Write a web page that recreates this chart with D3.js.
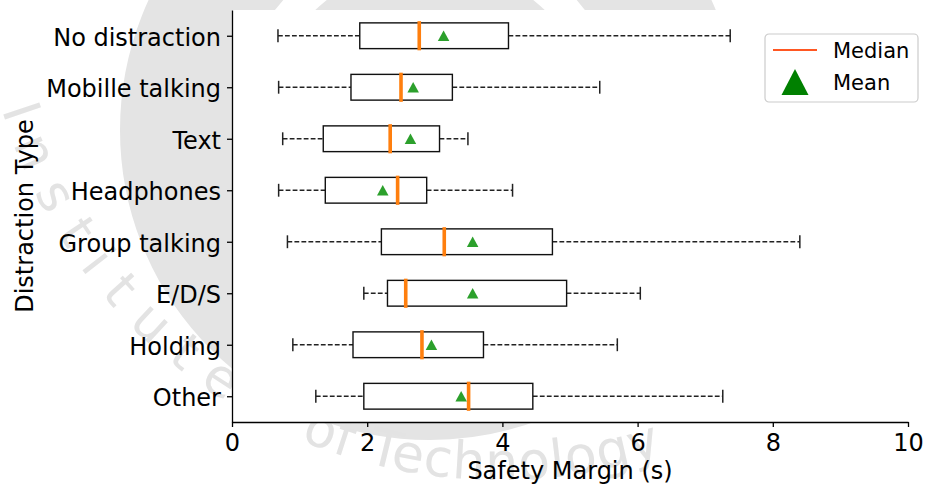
<!DOCTYPE html>
<html>
<head>
<meta charset="utf-8">
<script src="https://cdn.jsdelivr.net/npm/d3@7"></script>
<style>
  html, body { margin: 0; padding: 0; background: #ffffff; }
  svg { display: block; font-family: "DejaVu Sans", sans-serif; }
</style>
</head>
<body>
<svg id="chart" width="927" height="485"></svg>
<script>
// Distraction categories, listed top to bottom
const categories = ["No distraction", "Mobille talking", "Text", "Headphones",
                    "Group talking", "E/D/S", "Holding", "Other"];
// Five-number summaries and means of safety margin (s)
const whiskerLow  = [0.68, 0.69, 0.75, 0.69, 0.82, 1.95, 0.90, 1.24];
const q1          = [1.89, 1.76, 1.35, 1.38, 2.21, 2.30, 1.79, 1.95];
const medians     = [2.77, 2.50, 2.34, 2.45, 3.14, 2.57, 2.81, 3.50];
const q3          = [4.09, 3.26, 3.07, 2.88, 4.74, 4.95, 3.72, 4.45];
const whiskerHigh = [7.37, 5.44, 3.49, 4.15, 8.40, 6.04, 5.70, 7.26];
const means       = [3.13, 2.68, 2.64, 2.23, 3.56, 3.56, 2.95, 3.39];
const xTicks = [0, 2, 4, 6, 8, 10];

const svg = d3.select("#chart");
const plot = { left: 232, right: 908, top: 10, bottom: 422 };

// faint emblem behind the figure
const wm = svg.append("g").attr("fill", "#e4e4e4");
wm.append("circle").attr("cx", 430).attr("cy", 130).attr("r", 253)
  .attr("fill", "none").attr("stroke", "#e4e4e4").attr("stroke-width", 114);
wm.append("circle").attr("cx", 430).attr("cy", 130).attr("r", 166);
const defs = svg.append("defs");
// circular text track running from upper left, down and across the bottom
const tc = { x: 500, y: -40, r: 520 };
const pt = deg => [tc.x + tc.r * Math.cos(deg * Math.PI / 180), tc.y + tc.r * Math.sin(deg * Math.PI / 180)];
const [sx, sy] = pt(169), [ex, ey] = pt(60);
defs.append("path").attr("id", "wmTrack")
  .attr("d", `M${sx},${sy} A${tc.r},${tc.r} 0 0 0 ${ex},${ey}`);
const wmFont = { size: 52, fill: "#e3e3e3" };
wm.append("text").attr("font-size", wmFont.size).attr("fill", wmFont.fill)
  .attr("letter-spacing", 20)
  .append("textPath").attr("href", "#wmTrack").attr("startOffset", 52).text("Institute");
wm.append("text").attr("font-size", wmFont.size).attr("fill", wmFont.fill)
  .attr("letter-spacing", 1)
  .append("textPath").attr("href", "#wmTrack").attr("startOffset", 512).text("of Technology");

const x = d3.scaleLinear().domain([0, 10]).range([plot.left, plot.right]);
// boxes sit at positions 1..n from the bottom, with half a slot of padding
const n = categories.length;
const pos = d3.scaleLinear().domain([0.5, n + 0.5]).range([plot.bottom, plot.top]);
const yOf = i => pos(n - i);
const unit = Math.abs(pos(1) - pos(0));
const boxH = unit * 0.5;
const capH = unit * 0.25;

// plotting area background
svg.append("rect")
  .attr("x", plot.left).attr("y", plot.top)
  .attr("width", plot.right - plot.left).attr("height", plot.bottom - plot.top)
  .attr("fill", "#ffffff");

const rows = categories.map((c, i) => ({
  c, i, lo: whiskerLow[i], q1: q1[i], med: medians[i], q3: q3[i], hi: whiskerHigh[i], mean: means[i]
}));

const g = svg.append("g");
const row = g.selectAll("g.row").data(rows).join("g").attr("class", "row");

// dashed whiskers
row.append("line")
  .attr("x1", d => x(d.lo)).attr("x2", d => x(d.q1))
  .attr("y1", d => yOf(d.i)).attr("y2", d => yOf(d.i))
  .attr("stroke", "#222").attr("stroke-width", 1.3).attr("stroke-dasharray", "4.8,2.2");
row.append("line")
  .attr("x1", d => x(d.q3)).attr("x2", d => x(d.hi))
  .attr("y1", d => yOf(d.i)).attr("y2", d => yOf(d.i))
  .attr("stroke", "#222").attr("stroke-width", 1.3).attr("stroke-dasharray", "4.8,2.2");
// whisker caps
["lo", "hi"].forEach(k => {
  row.append("line")
    .attr("x1", d => x(d[k])).attr("x2", d => x(d[k]))
    .attr("y1", d => yOf(d.i) - capH / 2).attr("y2", d => yOf(d.i) + capH / 2)
    .attr("stroke", "#222").attr("stroke-width", 1.5);
});
// boxes
row.append("rect")
  .attr("x", d => x(d.q1)).attr("width", d => x(d.q3) - x(d.q1))
  .attr("y", d => yOf(d.i) - boxH / 2).attr("height", boxH)
  .attr("fill", "#ffffff").attr("stroke", "#111").attr("stroke-width", 1.4);
// medians
row.append("line")
  .attr("x1", d => x(d.med)).attr("x2", d => x(d.med))
  .attr("y1", d => yOf(d.i) - boxH / 2 - 1.7).attr("y2", d => yOf(d.i) + boxH / 2 + 1.7)
  .attr("stroke", "#ff7f0e").attr("stroke-width", 3.6);
// means
const tri = (w, h) => `M0,${-h / 2}L${w / 2},${h / 2}L${-w / 2},${h / 2}Z`;
row.append("path")
  .attr("d", tri(11.5, 10.5))
  .attr("transform", d => `translate(${x(d.mean)},${yOf(d.i)})`)
  .attr("fill", "#2ca02c");

// x axis
const xAxis = svg.append("g")
  .attr("transform", `translate(0,${plot.bottom})`)
  .call(d3.axisBottom(x).tickValues(xTicks).tickFormat(d3.format("d")).tickSize(5).tickSizeOuter(0).tickPadding(6));
xAxis.select(".domain").attr("stroke", "#000").attr("stroke-width", 1.3);
xAxis.selectAll(".tick line").attr("stroke", "#000").attr("stroke-width", 1.3);
xAxis.selectAll(".tick text").attr("font-size", 24).attr("font-family", "DejaVu Sans")
  .attr("fill", "#000").attr("dy", "0.74em");

// y axis
const yAxis = svg.append("g")
  .attr("transform", `translate(${plot.left},0)`)
  .call(d3.axisLeft(pos).tickValues(d3.range(1, n + 1))
    .tickFormat(v => categories[n - v]).tickSize(5).tickSizeOuter(0).tickPadding(6));
yAxis.select(".domain").attr("stroke", "#000").attr("stroke-width", 1.3);
yAxis.selectAll(".tick line").attr("stroke", "#000").attr("stroke-width", 1.3);
yAxis.selectAll(".tick text").attr("font-size", 24).attr("font-family", "DejaVu Sans")
  .attr("fill", "#000").attr("dy", "0.4em");

// axis titles
svg.append("text")
  .attr("x", (plot.left + plot.right) / 2).attr("y", 479)
  .attr("text-anchor", "middle").attr("font-size", 24).attr("fill", "#000")
  .text("Safety Margin (s)");
svg.append("text")
  .attr("transform", `translate(33,${(plot.top + plot.bottom) / 2}) rotate(-90)`)
  .attr("text-anchor", "middle").attr("font-size", 24).attr("fill", "#000")
  .text("Distraction Type");

// legend
const lg = svg.append("g").attr("transform", "translate(765,34)");
lg.append("rect").attr("width", 153).attr("height", 68).attr("rx", 4)
  .attr("fill", "#ffffff").attr("fill-opacity", 0.85)
  .attr("stroke", "#cccccc").attr("stroke-width", 1.2);
lg.append("line").attr("x1", 8).attr("x2", 52).attr("y1", 16).attr("y2", 16)
  .attr("stroke", "#ff5722").attr("stroke-width", 2);
lg.append("path").attr("d", tri(27, 26)).attr("transform", "translate(30,48)")
  .attr("fill", "#008000");
lg.append("text").attr("x", 68).attr("y", 24).attr("font-size", 21).attr("fill", "#000").text("Median");
lg.append("text").attr("x", 68).attr("y", 56).attr("font-size", 21).attr("fill", "#000").text("Mean");
</script>
</body>
</html>
